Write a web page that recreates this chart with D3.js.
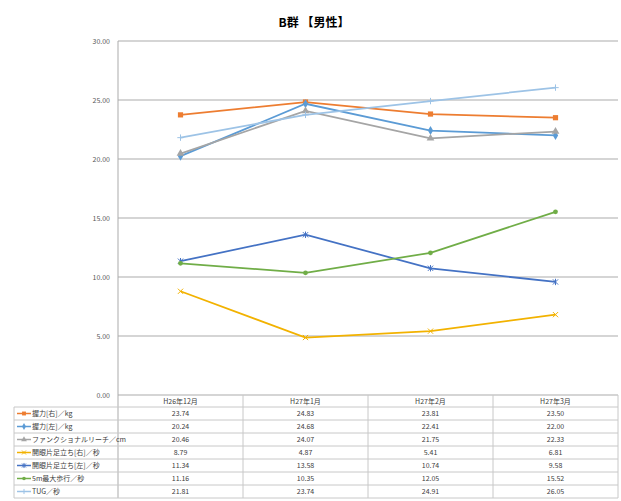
<!DOCTYPE html>
<html>
<head>
<meta charset="utf-8">
<script src="https://cdn.jsdelivr.net/npm/d3@7"></script>
<style>
  body { margin: 0; background: #fff; }
  text { font-family: "Noto Sans CJK JP", "DejaVu Sans", sans-serif; fill: #404040; }
</style>
</head>
<body>
<div id="chart"></div>
<script>
// data
var categories = ["H26年12月", "H27年1月", "H27年2月", "H27年3月"];
var seriesNames = ["握力[右]／kg", "握力[左]／kg", "ファンクショナルリーチ／cm",
    "開眼片足立ち[右]／秒", "開眼片足立ち[左]／秒", "5m最大歩行／秒", "TUG／秒"];
var grip_r = [23.74, 24.83, 23.81, 23.50];
var grip_l = [20.24, 24.68, 22.41, 22.00];
var reach = [20.46, 24.07, 21.75, 22.33];
var stand_r = [8.79, 4.87, 5.41, 6.81];
var stand_l = [11.34, 13.58, 10.74, 9.58];
var walk5m = [11.16, 10.35, 12.05, 15.52];
var tug = [21.81, 23.74, 24.91, 26.05];
var yTicks = [0, 5, 10, 15, 20, 25, 30];

var allValues = [grip_r, grip_l, reach, stand_r, stand_l, walk5m, tug];
var colors = ["#ED7D31", "#5B9BD5", "#A5A5A5", "#F2B200", "#4472C4", "#70AD47", "#9DC3E6"];
var markers = ["square", "diamond", "triangle", "x", "star", "circle", "plus"];

var W = 621, H = 501;
var plotLeft = 118, plotRight = 618, plotTop = 41, plotBottom = 395;
var headerH = 12, rowH = 13, legendLeft = 14;

var svg = d3.select("#chart").append("svg")
    .attr("width", W)
    .attr("height", H);

var x = d3.scaleBand().domain(categories).range([plotLeft, plotRight]);
var y = d3.scaleLinear().domain([0, 30]).range([plotBottom, plotTop]);

// title
svg.append("text")
    .attr("x", 314)
    .attr("y", 27)
    .attr("text-anchor", "middle")
    .style("font-size", "12px")
    .style("font-weight", "bold")
    .style("fill", "#000")
    .text("B群 【男性】");

// gridlines
svg.append("g").selectAll("line")
    .data(yTicks)
    .enter().append("line")
    .attr("x1", plotLeft)
    .attr("x2", plotRight)
    .attr("y1", function(d) { return y(d); })
    .attr("y2", function(d) { return y(d); })
    .attr("stroke", "#ABABAB")
    .attr("stroke-width", 1);

// y labels
svg.append("g").selectAll("text")
    .data(yTicks)
    .enter().append("text")
    .attr("x", plotLeft - 8)
    .attr("y", function(d) { return y(d) + 2.5; })
    .attr("text-anchor", "end")
    .style("font-size", "7px")
    .style("fill", "#595959")
    .text(function(d) { return d.toFixed(2); });

// y axis line
svg.append("line")
    .attr("x1", plotLeft).attr("x2", plotLeft)
    .attr("y1", plotTop).attr("y2", plotBottom + headerH + rowH * seriesNames.length)
    .attr("stroke", "#ABABAB");

// marker drawing
function drawMarker(g, type, color, cx, cy, sc) {
    var s = 2.6 * sc;
    if (type == "square") {
        g.append("rect").attr("x", cx - s).attr("y", cy - s)
            .attr("width", s * 2).attr("height", s * 2).attr("fill", color);
    } else if (type == "diamond") {
        g.append("path").attr("d", d3.symbol(d3.symbolDiamond, 24 * sc * sc)())
            .attr("transform", "translate(" + cx + "," + cy + ")").attr("fill", color);
    } else if (type == "triangle") {
        g.append("path").attr("d", d3.symbol(d3.symbolTriangle, 26 * sc * sc)())
            .attr("transform", "translate(" + cx + "," + cy + ")").attr("fill", color);
    } else if (type == "circle") {
        g.append("circle").attr("cx", cx).attr("cy", cy).attr("r", 2.4 * sc).attr("fill", color);
    } else {
        var p = d3.path();
        if (type == "x" || type == "star") {
            p.moveTo(cx - s, cy - s); p.lineTo(cx + s, cy + s);
            p.moveTo(cx + s, cy - s); p.lineTo(cx - s, cy + s);
        }
        if (type == "star" || type == "plus") {
            p.moveTo(cx, cy - s - 0.6); p.lineTo(cx, cy + s + 0.6);
        }
        if (type == "plus") {
            p.moveTo(cx - s - 0.6, cy); p.lineTo(cx + s + 0.6, cy);
        }
        g.append("path").attr("d", p.toString()).attr("stroke", color)
            .attr("stroke-width", 1).attr("fill", "none");
    }
}

// lines
var line = d3.line()
    .x(function(d, i) { return x(categories[i]) + x.bandwidth() / 2; })
    .y(function(d) { return y(d); });

allValues.forEach(function(vals, k) {
    var g = svg.append("g");
    g.append("path")
        .attr("d", line(vals))
        .attr("fill", "none")
        .attr("stroke", colors[k])
        .attr("stroke-width", 1.75);
    vals.forEach(function(v, i) {
        drawMarker(g, markers[k], colors[k], x(categories[i]) + x.bandwidth() / 2, y(v), 1);
    });
});

// data table
var table = svg.append("g");
var tableBottom = plotBottom + headerH + rowH * seriesNames.length;

// vertical column lines
categories.forEach(function(c) {
    table.append("line")
        .attr("x1", x(c) + x.bandwidth()).attr("x2", x(c) + x.bandwidth())
        .attr("y1", plotBottom).attr("y2", tableBottom)
        .attr("stroke", "#C8C8C8");
});
table.append("line")
    .attr("x1", legendLeft).attr("x2", legendLeft)
    .attr("y1", plotBottom + headerH).attr("y2", tableBottom)
    .attr("stroke", "#C8C8C8");

// horizontal row lines
for (var r = 0; r <= seriesNames.length; r++) {
    table.append("line")
        .attr("x1", legendLeft).attr("x2", plotRight)
        .attr("y1", plotBottom + headerH + r * rowH).attr("y2", plotBottom + headerH + r * rowH)
        .attr("stroke", "#C8C8C8");
}

// header labels
table.selectAll(".cat")
    .data(categories)
    .enter().append("text")
    .attr("class", "cat")
    .attr("x", function(d) { return x(d) + x.bandwidth() / 2; })
    .attr("y", plotBottom + 9)
    .attr("text-anchor", "middle")
    .style("font-size", "7px")
    .text(function(d) { return d; });

// rows
seriesNames.forEach(function(name, k) {
    var cy = plotBottom + headerH + k * rowH + rowH / 2;
    table.append("line")
        .attr("x1", 17).attr("x2", 31)
        .attr("y1", cy).attr("y2", cy)
        .attr("stroke", colors[k]).attr("stroke-width", 1.5);
    drawMarker(table, markers[k], colors[k], 24, cy, 0.75);
    table.append("text")
        .attr("x", 32)
        .attr("y", cy + 2.5)
        .style("font-size", "7px")
        .text(name);
    allValues[k].forEach(function(v, i) {
        table.append("text")
            .attr("x", x(categories[i]) + x.bandwidth() / 2)
            .attr("y", cy + 2.5)
            .attr("text-anchor", "middle")
            .style("font-size", "7px")
            .text(v.toFixed(2));
    });
});
</script>
</body>
</html>
